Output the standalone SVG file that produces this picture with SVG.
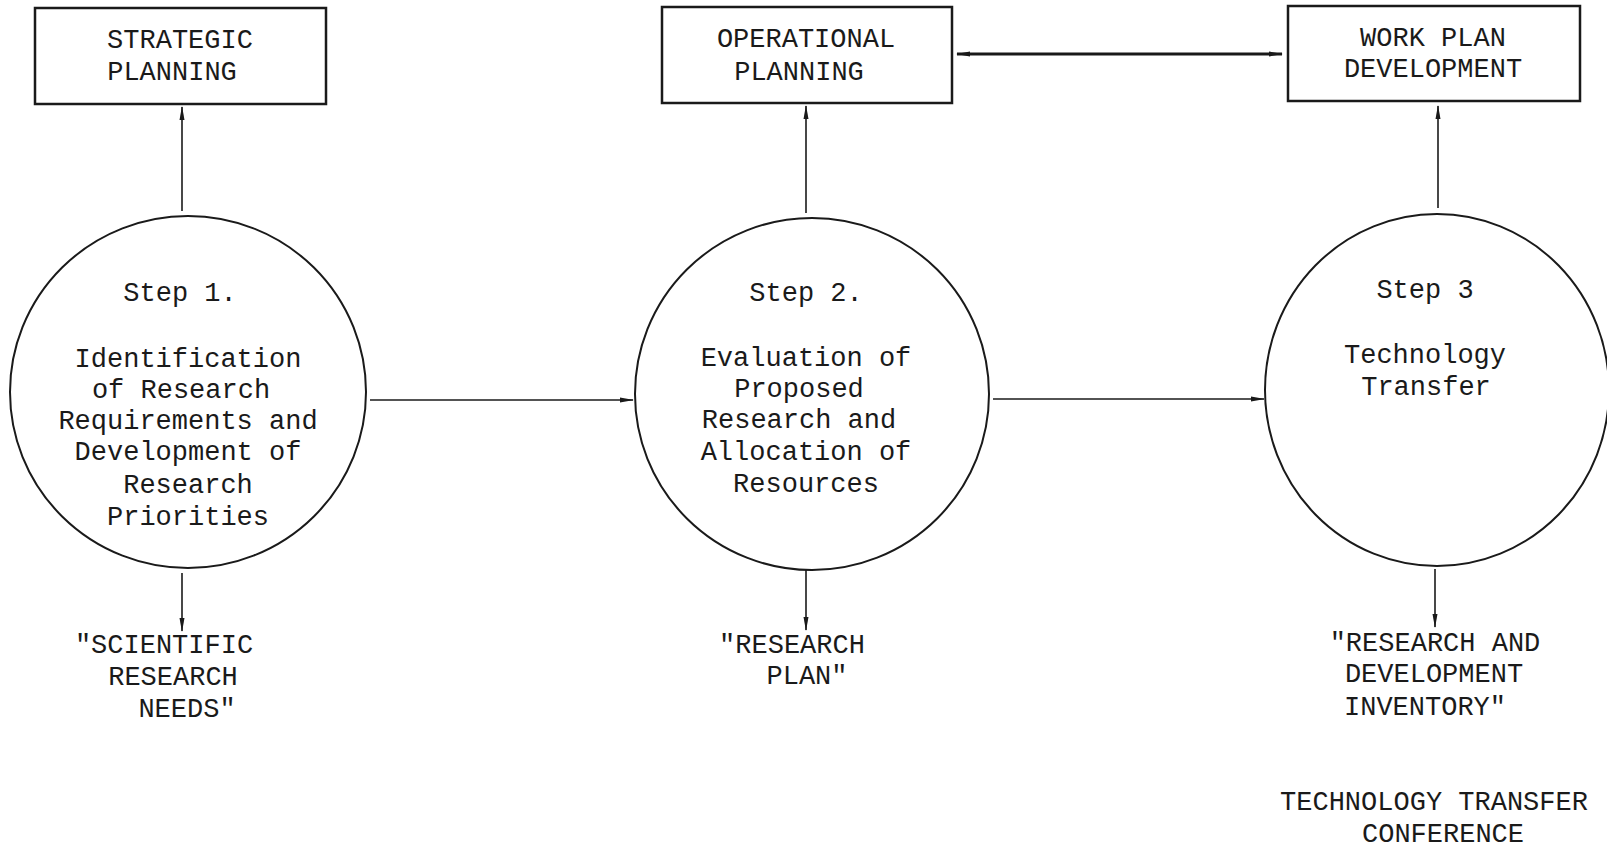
<svg xmlns="http://www.w3.org/2000/svg" width="1607" height="847" viewBox="0 0 1607 847">
<style>
text{font-family:"Liberation Mono","DejaVu Sans Mono",monospace;font-size:27px;fill:#1a1a1a;text-anchor:middle}
.box{fill:none;stroke:#1a1a1a;stroke-width:2.5}
.circ{fill:none;stroke:#1a1a1a;stroke-width:2}
.ln{fill:none;stroke:#1a1a1a;stroke-width:1.6}
.thick{stroke-width:3}
</style>
<defs>
<marker id="ah" viewBox="0 0 14 6" refX="13" refY="3" markerWidth="14" markerHeight="6" markerUnits="userSpaceOnUse" orient="auto-start-reverse">
<path d="M0,0.5 L14,3 L0,5.5 Z" fill="#1a1a1a"/>
</marker>
</defs>
<g id="connectors">
<line class="ln" x1="182" y1="211" x2="182" y2="107" marker-end="url(#ah)"/>
<line class="ln" x1="806" y1="213" x2="806" y2="106" marker-end="url(#ah)"/>
<line class="ln" x1="1438" y1="208" x2="1438" y2="106" marker-end="url(#ah)"/>
<line class="ln thick" x1="957" y1="54" x2="1282" y2="54" marker-start="url(#ah)" marker-end="url(#ah)"/>
<line class="ln" x1="370" y1="400" x2="633" y2="400" marker-end="url(#ah)"/>
<line class="ln" x1="993" y1="399" x2="1264" y2="399" marker-end="url(#ah)"/>
<line class="ln" x1="182" y1="573" x2="182" y2="631" marker-end="url(#ah)"/>
<line class="ln" x1="806" y1="570" x2="806" y2="630" marker-end="url(#ah)"/>
<line class="ln" x1="1435" y1="569" x2="1435" y2="627" marker-end="url(#ah)"/>
</g>
<g id="strategic">
<rect class="box" x="35" y="8" width="291" height="96"/>
<text x="180" y="48">STRATEGIC</text>
<text x="172" y="80">PLANNING</text>
</g>
<g id="operational">
<rect class="box" x="662" y="7" width="290" height="96"/>
<text x="806" y="47">OPERATIONAL</text>
<text x="799" y="80">PLANNING</text>
</g>
<g id="workplan">
<rect class="box" x="1288" y="6" width="292" height="95"/>
<text x="1433" y="46">WORK PLAN</text>
<text x="1433" y="77">DEVELOPMENT</text>
</g>
<g id="step1">
<ellipse class="circ" cx="188" cy="392" rx="178" ry="176"/>
<text x="180" y="301">Step 1.</text>
<text x="188" y="367">Identification</text>
<text x="181" y="398">of Research</text>
<text x="188" y="429">Requirements and</text>
<text x="188" y="460">Development of</text>
<text x="188" y="493">Research</text>
<text x="188" y="525">Priorities</text>
</g>
<g id="step2">
<ellipse class="circ" cx="812" cy="394" rx="177" ry="176"/>
<text x="806" y="301">Step 2.</text>
<text x="806" y="366">Evaluation of</text>
<text x="799" y="397">Proposed</text>
<text x="799" y="428">Research and</text>
<text x="806" y="460">Allocation of</text>
<text x="806" y="492">Resources</text>
</g>
<g id="step3">
<ellipse class="circ" cx="1437" cy="390" rx="172" ry="176"/>
<text x="1425" y="298">Step 3</text>
<text x="1425" y="363">Technology</text>
<text x="1426" y="395">Transfer</text>
</g>
<g id="needs">
<text x="164" y="653">"SCIENTIFIC</text>
<text x="173" y="685">RESEARCH</text>
<text x="187" y="717">NEEDS"</text>
</g>
<g id="plan">
<text x="792" y="653">"RESEARCH</text>
<text x="807" y="684">PLAN"</text>
</g>
<g id="inventory">
<text x="1435" y="651">"RESEARCH AND</text>
<text x="1434" y="682">DEVELOPMENT</text>
<text x="1425" y="715">INVENTORY"</text>
</g>
<g id="conference">
<text x="1434" y="810">TECHNOLOGY TRANSFER</text>
<text x="1443" y="842">CONFERENCE</text>
</g>
</svg>
